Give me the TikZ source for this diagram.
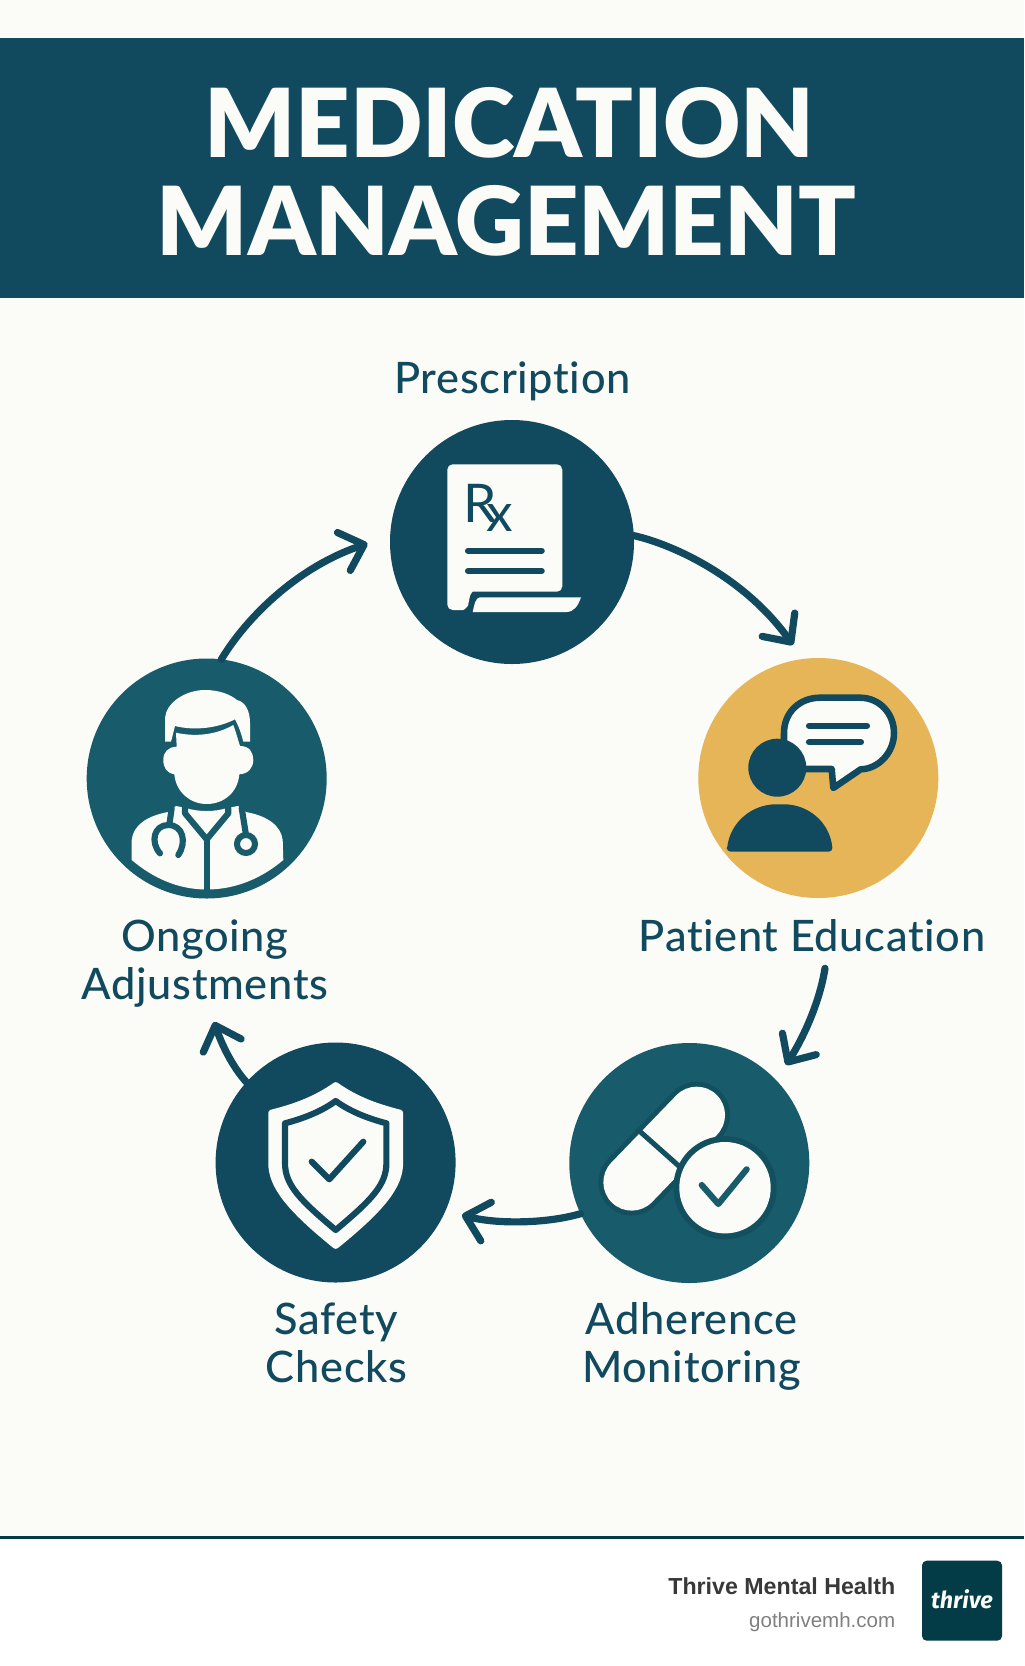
\documentclass[tikz,border=0pt]{standalone}
\usepackage{fontspec}
\usetikzlibrary{arrows.meta}
\setmainfont{Lato}
\newfontfamily\titlefont{Lato Black}
\newfontfamily\labelfont[LetterSpace=1.5,Ligatures=NoCommon]{Lato Medium}
\newfontfamily\footfont{Liberation Sans}
\newfontfamily\logofont{Fira Sans}
\definecolor{paper}{HTML}{FBFBF7}
\definecolor{navyteal}{HTML}{114A5E}
\definecolor{midteal}{HTML}{185C6C}
\definecolor{pillteal}{HTML}{13505F}
\definecolor{gold}{HTML}{E5B557}
\definecolor{footdark}{HTML}{033B46}
\tikzset{
  stepcircle/.style={circle, inner sep=0pt, outer sep=0pt, minimum size=180pt},
  steplabel/.style={text=navyteal, align=center, anchor=base, font=\labelfont\fontsize{32.5}{35.8}\selectfont},
  titleline/.style={text=paper, anchor=base, inner sep=0pt, font=\titlefont\fontsize{71.4}{73}\selectfont},
  cyclearrow/.style={draw=navyteal, line width=5.4pt, line cap=round,
    -{Straight Barb[length=16pt, width=30pt, round]}},
  iconline/.style={line width=4.6pt, line cap=round, line join=round},
}
\begin{document}
\begin{tikzpicture}[x=0.75pt, y=-0.75pt]
  \useasboundingbox (0, 0) rectangle (1024, 1666);
  \fill[paper] (0, 0) rectangle (1024, 1537);
  \fill[white] (0, 1537) rectangle (1024, 1666);
  \fill[navyteal] (0, 38.5) rectangle (1024, 298);
  \fill[footdark] (0, 1536) rectangle (1024, 1539);

  \node[titleline] (titleone) at (509.5, 157) {MEDICATION};
  \node[titleline] (titletwo) at (506.5, 255) {MANAGEMENT};

  \node[stepcircle, fill=navyteal, minimum size=183pt] (presc) at (512, 542) {};
  \node[stepcircle, fill=gold] (educ) at (818.3, 778) {};
  \node[stepcircle, fill=midteal] (monitor) at (689.3, 1163) {};
  \node[stepcircle, fill=navyteal] (safety) at (335.6, 1162.5) {};
  \node[stepcircle, fill=midteal] (adjust) at (206.7, 778.5) {};

  \node[steplabel] (prescl) at (512.5, 393) {Prescription};
  \node[steplabel] (educl) at (812, 951) {Patient Education};
  \node[steplabel] (monitorl) at (691.5, 1382.3) {Adherence\\Monitoring};
  \node[steplabel] (safetyl) at (336.5, 1382.3) {Safety\\Checks};
  \node[steplabel] (adjustl) at (205, 999) {Ongoing\\Adjustments};

  \coordinate (tipa) at (793, 645);
  \coordinate (taila) at (825, 968.3);
  \coordinate (tipb) at (786, 1065);
  \coordinate (tipc) at (462, 1215);
  \coordinate (tipd) at (214, 1022);
  \coordinate (tipe) at (367.5, 543.5);
  \draw[cyclearrow] (presc.3) .. controls (675, 545) and (745, 578) .. (tipa);
  \draw[cyclearrow] (taila) .. controls (820, 1000) and (805, 1035) .. (tipb);
  \draw[cyclearrow] (monitor.205) .. controls (545, 1224) and (495, 1224) .. (tipc);
  \draw[cyclearrow] (safety.138) .. controls (232, 1066) and (222, 1045) .. (tipd);
  \draw[cyclearrow] (adjust.83) .. controls (245, 620) and (295, 568) .. (tipe);

  % prescription sheet
  \fill[paper, rounded corners=4pt] (447.3, 464.3) -- (562.3, 464.3) -- (562.3, 591.7) -- (478, 591.7)
    .. controls (472, 591.7) and (470, 596) .. (469, 600) .. controls (468, 606) and (464, 610) .. (458, 610)
    -- (447.3, 610) -- cycle;
  \fill[paper] (480, 597.3) -- (581, 597.3) .. controls (578, 606) and (574, 612) .. (566, 612) -- (472.7, 612)
    .. controls (474, 607) and (475, 597.3) .. (480, 597.3) -- cycle;
  \node[text=navyteal, inner sep=0pt, anchor=base west, font=\fontsize{40}{40}\selectfont] (rx) at (463, 522.7) {R\kern-7.5pt\lower6.9pt\hbox{x}};
  \draw[navyteal, iconline] (468, 550.7) -- (541.7, 550.7);
  \draw[navyteal, iconline] (468, 571) -- (541.7, 571);

  % speech bubble and person
  \draw[navyteal, fill=paper, line width=4.9pt, line join=round] (784, 745) -- (784, 733)
    .. controls (784, 712) and (800, 697.7) .. (820, 697.7) -- (860, 697.7)
    .. controls (880, 697.7) and (894, 714) .. (894, 733)
    .. controls (894, 753) and (878, 769) .. (860.7, 769.3) -- (833.3, 788) -- (831.7, 769) -- (790, 769) -- cycle;
  \draw[navyteal, iconline] (809, 725.7) -- (867, 725.7);
  \draw[navyteal, iconline] (809, 742.3) -- (861, 742.3);
  \fill[navyteal] (777.3, 767.7) circle (29);
  \fill[navyteal, rounded corners=3pt] (726.7, 851.7) -- (726.7, 851.7) .. controls (730, 822) and (752, 804.3) .. (780, 804.3)
    .. controls (808, 804.3) and (830, 822) .. (832.7, 851.7) -- cycle;

  % pill and check
  \draw[pillteal, line width=50pt, line cap=round] (696.7, 1115) -- (631.7, 1182.3);
  \draw[paper, line width=42.5pt, line cap=round] (696.7, 1115) -- (631.7, 1182.3);
  \draw[pillteal, line width=3.8pt] (638.3, 1130) -- (680, 1167);
  \fill[pillteal] (725, 1187.7) circle (51.7);
  \fill[paper] (725, 1187.7) circle (45.7);
  \draw[midteal, iconline] (701.7, 1185) -- (718.3, 1204) -- (746.7, 1169.3);

  % shield
  \filldraw[paper, line width=5pt, line join=round] (335.7, 1085.5) .. controls (315, 1100) and (295, 1107) .. (271.6, 1113)
    -- (271.6, 1163) .. controls (271.6, 1185) and (288, 1207) .. (335.7, 1245.5)
    .. controls (383.4, 1207) and (399.8, 1185) .. (399.8, 1163) -- (399.8, 1113)
    .. controls (376.4, 1107) and (356.4, 1100) .. (335.7, 1085.5) -- cycle;
  \draw[navyteal, line width=4.6pt, line join=round] (335.7, 1101) .. controls (322, 1111) and (305, 1118) .. (285, 1123.3)
    -- (285, 1163) .. controls (285, 1185) and (300, 1200) .. (335.7, 1230)
    .. controls (371.4, 1200) and (386.4, 1185) .. (386.4, 1163) -- (386.4, 1123.3)
    .. controls (366.4, 1118) and (349.4, 1111) .. (335.7, 1101) -- cycle;
  \draw[navyteal, iconline] (311.7, 1161.7) -- (329.3, 1179.3) -- (363.3, 1141.7);

  % doctor
  \fill[paper] (165, 741.7) -- (165, 718) .. controls (166, 703) and (185, 690) .. (205, 690)
    .. controls (220, 690) and (231, 695) .. (237, 700) .. controls (246, 702) and (250, 712) .. (250, 723)
    -- (250, 741.7) -- (243.3, 741.7) .. controls (241, 732) and (238, 725) .. (235, 719.3)
    .. controls (218, 728) and (195, 731) .. (175, 726) -- (171, 741.7) -- cycle;
  \fill[paper] (176, 732.7) .. controls (195, 737) and (216, 735) .. (233.3, 725)
    .. controls (236, 732) and (238, 740) .. (240, 746) .. controls (250, 746) and (253.3, 753) .. (253.3, 760)
    .. controls (253.3, 768) and (248, 774) .. (239.3, 774.3) .. controls (238, 792) and (224, 804) .. (206.7, 804)
    .. controls (190, 804) and (176, 792) .. (174.3, 774.3) .. controls (167, 773) and (163.3, 768) .. (163.3, 760)
    .. controls (163.3, 752) and (168, 747) .. (176.7, 746.7) -- cycle;
  \fill[paper] (131.7, 860) -- (131.7, 840) .. controls (133, 826) and (146, 816) .. (168, 812)
    -- (176, 806) -- (186, 808) .. controls (198, 812) and (215, 812) .. (227, 808) -- (238, 806) -- (246, 812)
    .. controls (268, 816) and (281, 826) .. (282.7, 840) -- (283.3, 860)
    .. controls (262, 878) and (236, 889.5) .. (206.7, 889.5) .. controls (178, 889.5) and (153, 878) .. (131.7, 860) -- cycle;
  \draw[midteal, iconline] (185, 806) -- (185, 813.3) -- (206.7, 839.3) -- (228.3, 813.3) -- (228.3, 806);
  \draw[midteal, line width=4.4pt] (206.7, 839.3) -- (206.7, 890);
  \draw[midteal, iconline] (171.7, 808) -- (169.3, 825);
  \draw[midteal, iconline] (160, 853.3) .. controls (150, 842) and (154, 825) .. (168.3, 825)
    .. controls (183, 825) and (187, 842) .. (178.3, 855);
  \draw[midteal, iconline] (241.7, 808) -- (246, 835);
  \draw[midteal, line width=4.5pt, fill=paper] (246, 844) circle (9);

  \node[text=black!78, anchor=base east, inner sep=0pt, font=\footfont\bfseries\fontsize{17.4}{20}\selectfont] (brand) at (895.5, 1594) {Thrive Mental Health};
  \node[text=black!50, anchor=base east, inner sep=0pt, font=\footfont\fontsize{15.4}{18}\selectfont] (site) at (895.5, 1627) {gothrivemh.com};
  \node[fill=footdark, rounded corners=3.5pt, inner sep=0pt, minimum size=60pt] (logo) at (962, 1600.7) {};
  \node[text=paper, anchor=base, inner sep=0pt, font=\logofont\bfseries\itshape\fontsize{17.5}{20}\selectfont] (logotext) at (962, 1608.3) {thrive};
\end{tikzpicture}
\end{document}
